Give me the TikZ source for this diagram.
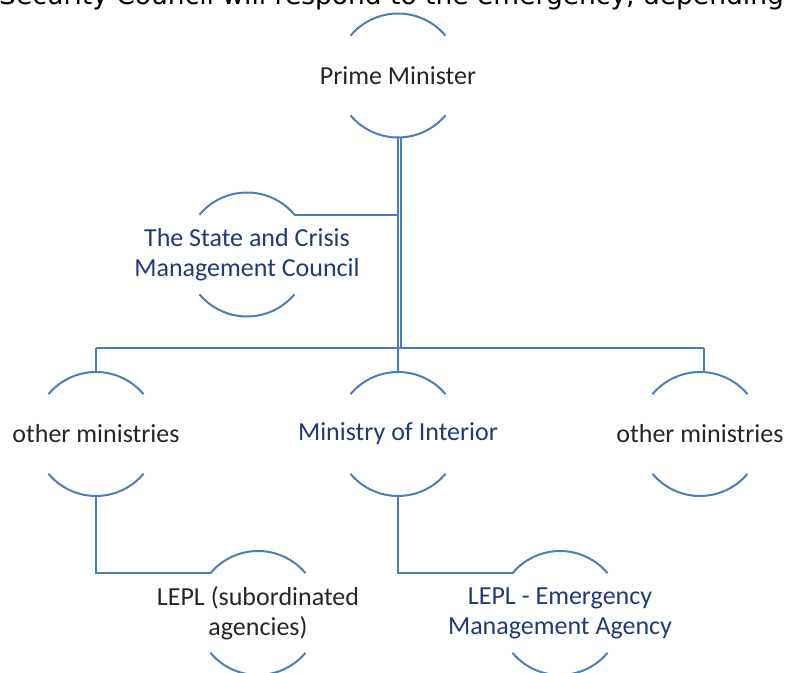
\documentclass[tikz,border=0pt]{standalone}
\usepackage{fontspec}
\usetikzlibrary{calc}
\setmainfont{Carlito}
\newfontfamily\topfont{DejaVu Sans}
\definecolor{linec}{HTML}{4A7EBB}
\definecolor{darktxt}{HTML}{262626}
\definecolor{bluetxt}{HTML}{1F3A78}
\begin{document}
\begin{tikzpicture}[x=1pt,y=1pt,
  org/.style={inner sep=0pt,align=center,font=\fontsize{26}{30}\selectfont},
  blk/.style={org,text=darktxt},
  blu/.style={org,text=bluetxt},
  ring/.style={circle,minimum size=124pt,inner sep=0pt,outer sep=0pt},
  conn/.style={draw=linec,line width=2pt},
  arcs/.style={draw=linec,line width=2pt}]
\useasboundingbox (0,0) rectangle (787,672);
% cut-off text line at the top
\node[anchor=base west,inner sep=0pt,text=black,font=\topfont\fontsize{26.5}{30}\selectfont] (top) at (-1,667) {Security Council will respond to the emergency, depending};
% nodes
\node[blk] (pm) at (398,596.5) {Prime Minister};
\node[blu] (sc) at (247,417.5) {The State and Crisis\\Management Council};
\node[blk] (om1) at (96,238) {other ministries};
\node[blu] (moi) at (398,238) {Ministry of Interior};
\node[blk] (om2) at (700,238) {other ministries};
\node[blk] (lepl1) at (258,58.5) {LEPL (subordinated\\agencies)};
\node[blu] (lepl2) at (560,58.5) {LEPL - Emergency\\Management Agency};
% rings (fixed-size invisible circles) and their arcs
\foreach \n/\cy in {pm/596.5,sc/417.5,om1/238,moi/238,om2/238,lepl1/59,lepl2/59}{
  \node[ring] (\n R) at (\n.center |- 0,\cy) {};
  \draw[arcs] (\n R.40) arc[start angle=40,end angle=140,radius=62pt];
  \draw[arcs] (\n R.220) arc[start angle=220,end angle=320,radius=62pt];
}
% connectors
\coordinate (busL) at (96,324);
\coordinate (busM) at (398,324);
\coordinate (busR) at (704,324);
\draw[conn] ([xshift=-0.5pt]pmR.south) -- ([xshift=-0.5pt]pmR.south |- busM);
\draw[conn] ([xshift=2.5pt]pmR.south) -- ([xshift=2.5pt]pmR.south |- busM);
\draw[conn] (scR.40) -- (scR.40 -| busM);
\draw[conn] (busL) -- (busR);
\draw[conn] (busL) -- (om1R.north);
\draw[conn] (busM) -- (moiR.north);
\draw[conn] (busR) -- ($(om2R.north)+(4,-0.2)$);
\draw[conn] (om1R.south) |- (lepl1R.140);
\draw[conn] (moiR.south) |- (lepl2R.140);
\end{tikzpicture}
\end{document}
